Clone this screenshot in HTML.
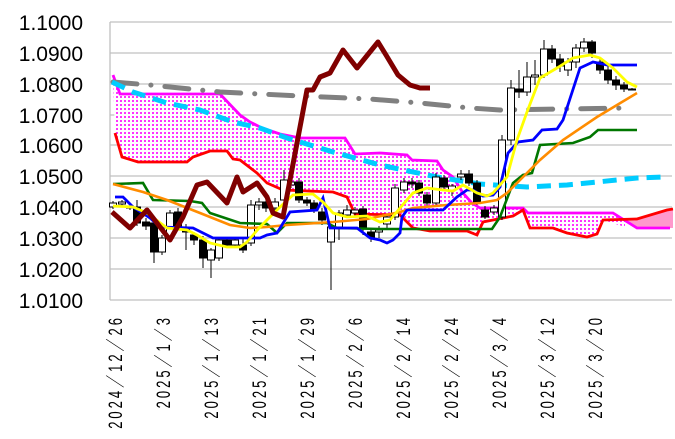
<!DOCTYPE html>
<html><head><meta charset="utf-8"><style>
html,body{margin:0;padding:0;background:#fff;}
svg{display:block;}
text{font-family:"Liberation Sans","Noto Sans CJK JP",sans-serif;fill:#000;}
</style></head><body>
<svg id="s" width="675" height="439" xmlns="http://www.w3.org/2000/svg">
<defs>
<pattern id="dots" width="4" height="4" patternUnits="userSpaceOnUse">
<rect width="4" height="4" fill="#fff"/>
<rect x="0" y="0" width="2" height="2" fill="#ff33ff"/>
</pattern>
</defs>
<g stroke="#c0c0c0" stroke-width="1.3">
<line x1="110" y1="22" x2="672" y2="22"/><line x1="110" y1="53" x2="672" y2="53"/>
<line x1="110" y1="84" x2="672" y2="84"/><line x1="110" y1="115" x2="672" y2="115"/>
<line x1="110" y1="145" x2="672" y2="145"/><line x1="110" y1="176" x2="672" y2="176"/>
<line x1="110" y1="207" x2="672" y2="207"/><line x1="110" y1="238" x2="672" y2="238"/>
<line x1="110" y1="269" x2="672" y2="269"/><line x1="110" y1="300" x2="672" y2="300"/>
<line x1="110" y1="22" x2="110" y2="300"/>
</g>
<g font-size="21" text-anchor="end">
<text x="83" y="30">1.1000</text><text x="83" y="61">1.0900</text><text x="83" y="92">1.0800</text>
<text x="83" y="123">1.0700</text><text x="83" y="153">1.0600</text><text x="83" y="184">1.0500</text>
<text x="83" y="215">1.0400</text><text x="83" y="246">1.0300</text><text x="83" y="277">1.0200</text>
<text x="83" y="308">1.0100</text>
</g>
<g font-size="13" text-anchor="end" letter-spacing="3" id="xl"></g>
<polygon fill="url(#dots)" points="113,75 120,94 220,94 240,115 250,122 262,128 280,134 300,138 345,138 355,154 380,153 407,155 412,160 437,161 443,170 453,177 463,193 472,203 480,208 523,208 528,213 613,213 625,220 625,227 603,220 597,234 587,237 567,233 553,228 530,228 523,210 513,216 483,222 477,235 467,231 430,231 413,228 400,215 355,214 347,197 333,192 283,190 267,183 257,173 240,160 233,159 227,151 210,151 193,157 187,162 138,162 122,157 115,133"/>
<polygon fill="#ff99cc" points="625,220 637,219 667,210 673,209 673,228 637,228"/>
<polyline fill="none" stroke="#ff00ff" stroke-width="2.8" points="113,75 120,94 220,94 240,115 250,122 262,128 280,134 300,138 345,138 355,154 380,153 407,155 412,160 437,161 443,170 453,177 463,193 472,203 480,208 523,208 528,213 613,213 637,228 670,228"/>
<polyline fill="none" stroke="#ff0000" stroke-width="2.8" points="115,133 122,157 138,162 187,162 193,157 210,151 227,151 233,159 240,160 257,173 267,183 283,190 333,192 347,197 355,214 400,215 413,228 430,231 467,231 477,235 483,222 513,216 523,210 530,228 553,228 567,233 587,237 597,234 603,220 637,219 667,210 673,209"/>
<polyline fill="none" stroke="#808080" stroke-width="5" stroke-linecap="round" stroke-dasharray="24,14,0.1,14" points="113,82 150,85 220,92 300,96 370,99 420,103 470,108 500,110 560,109 630,108"/>
<polyline fill="none" stroke="#00ccff" stroke-width="5" stroke-dasharray="14,8" points="112,82 133,92 167,103 200,110 233,122 260,128 287,138 333,152 380,165 437,177 480,184 527,187 567,185 597,182 637,178 665,177"/>
<g id="candles" stroke="#000" stroke-width="1"></g>
<polyline fill="none" stroke="#007700" stroke-width="2.6" points="113,184 143,183 153,200 190,201 202,203 210,213 240,223 267,224 277,233 287,223 327,223 337,228 380,229 492,229 500,217 513,183 523,175 532,173 540,145 573,143 590,137 598,130 637,130"/>
<polyline fill="none" stroke="#ff8c00" stroke-width="2.6" points="113,184 143,192 167,200 200,213 230,225 250,228 267,227 287,225 333,222 367,219 400,212 413,208 447,205 480,203 497,200 507,193 523,177 540,160 563,140 597,117 637,93"/>
<polyline fill="none" stroke="#0000ff" stroke-width="2.8" points="115,197 123,197 133,207 150,218 160,227 193,228 213,238 260,238 267,235 277,233 290,212 317,210 323,198 330,228 357,228 370,238 380,240 387,243 393,240 400,233 402,217 407,210 443,210 457,197 467,190 473,190 483,196 493,195 500,187 508,153 518,142 533,140 542,130 557,129 563,120 580,68 593,62 607,65 637,65"/>
<polyline fill="none" stroke="#ffff00" stroke-width="2.8" points="113,206 133,207 147,213 167,228 187,230 197,235 210,243 227,247 240,247 247,242 260,227 280,207 293,195 313,194 323,202 333,213 347,217 367,216 380,222 390,220 400,208 413,193 427,188 443,190 453,191 463,185 477,193 487,196 493,193 507,177 517,140 527,112 540,78 557,68 573,58 590,55 600,58 613,68 627,82 637,87"/>
<polyline fill="none" stroke="#800000" stroke-width="5" stroke-linejoin="round" points="112,212 130,228 147,210 170,240 183,217 197,185 207,182 227,203 237,177 243,192 257,183 267,197 273,213 283,217 297,143 307,90 313,90 320,77 330,73 343,50 357,68 378,42 386,55 398,75 410,85 420,88 430,88"/>
</svg>
<script>
var ns="http://www.w3.org/2000/svg";
var xl=document.getElementById("xl");
var labs=["2024／12／26","2025／1／3","2025／1／13","2025／1／21","2025／1／29","2025／2／6","2025／2／14","2025／2／24","2025／3／4","2025／3／12","2025／3／20"];
for(var i=0;i<labs.length;i++){var cx=115+48*i;var t=document.createElementNS(ns,"text");t.setAttribute("transform","translate("+(cx+7)+",315) rotate(-90) scale(1,1.5)");t.setAttribute("x",0);t.setAttribute("y",0);t.textContent=labs[i];xl.appendChild(t);}
var c=[[113,207,203,201,209],[122,204,202,200,206],[130,206,208,204,210],[137,207,223,200,226],[146,222,226,218,230],[154,223,252,220,263],[162,252,238,235,255],[170,238,213,210,240],[178,212,227,208,230],[186,227,232,224,250],[194,235,240,232,245],[203,240,258,236,268],[211,260,250,248,278],[219,258,240,237,261],[227,240,245,238,248],[235,245,240,238,248],[243,245,250,238,253],[251,243,205,200,246],[259,205,202,198,210],[266,202,208,200,212],[275,208,202,198,212],[284,200,180,170,203],[291,185,182,178,188],[299,182,200,178,203],[307,200,203,197,206],[314,203,210,200,213],[322,212,220,208,225],[331,242,227,224,290],[339,227,213,210,240],[347,215,210,205,218],[355,213,210,207,216],[363,209,228,206,235],[371,232,237,228,242],[379,232,230,226,238],[387,224,217,214,228],[395,217,188,184,220],[404,190,182,178,193],[412,182,184,178,188],[419,183,193,180,196],[427,195,203,192,207],[436,203,177,173,206],[444,178,187,175,190],[452,190,186,184,196],[461,177,174,170,180],[469,174,183,170,186],[477,183,202,180,205],[485,210,217,206,219],[494,212,208,205,215],[502,217,140,135,220],[511,140,88,80,145],[519,89,92,70,98],[527,92,77,62,96],[535,77,75,60,85],[544,75,49,40,78],[552,49,59,45,63],[560,59,66,54,72],[568,70,62,58,76],[576,62,48,44,68],[584,48,42,38,52],[592,42,53,40,58],[600,62,70,58,74],[608,70,80,66,84],[616,80,85,76,90],[624,85,89,82,92],[632,89,89,88,90]];
var g=document.getElementById("candles");
c.forEach(function(d){var x=d[0],o=d[1],cl=d[2],h=d[3],l=d[4];
var ln=document.createElementNS(ns,"line");ln.setAttribute("x1",x);ln.setAttribute("x2",x);ln.setAttribute("y1",h);ln.setAttribute("y2",l);g.appendChild(ln);
var r=document.createElementNS(ns,"rect");var t=Math.min(o,cl),b=Math.max(o,cl);r.setAttribute("x",x-3.5);r.setAttribute("width",7);r.setAttribute("y",t);r.setAttribute("height",Math.max(1,b-t));r.setAttribute("fill",cl>o?"#000":"#fff");g.appendChild(r);});
</script>
</body></html>
